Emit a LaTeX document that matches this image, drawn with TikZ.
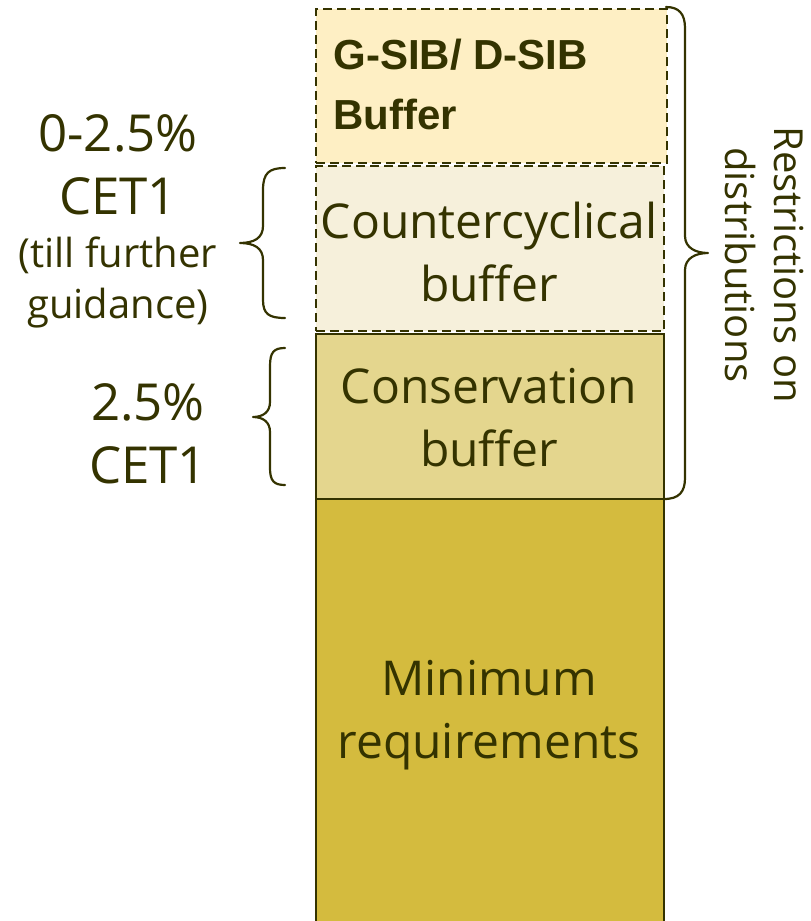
\documentclass[tikz,border=0pt]{standalone}
\usepackage{fontspec}
\setmainfont{Open Sans}
\newfontfamily\boldarial{Liberation Sans}[BoldFont={Liberation Sans Bold}]
\definecolor{inkc}{HTML}{343300}
\definecolor{gsibc}{HTML}{FEEFC4}
\definecolor{counterc}{HTML}{F6F0DB}
\definecolor{conservc}{HTML}{E4D68E}
\definecolor{minc}{HTML}{D4BB3E}
\tikzset{
  layer/.style={draw=inkc, line width=2.2pt, minimum width=348pt, anchor=north west, inner sep=0pt},
  dashedlayer/.style={layer, dash pattern=on 9pt off 5pt},
  boxtext/.style={text=inkc, font=\fontsize{48}{63}\selectfont, align=center},
  bigtext/.style={text=inkc, font=\fontsize{51}{63}\selectfont, align=center},
  smalltext/.style={text=inkc, font=\fontsize{40}{51}\selectfont, align=center},
  bracket/.style={draw=inkc, line width=2.2pt, line cap=round, line join=round}
}
\begin{document}
\begin{tikzpicture}[x=1pt,y=-1pt]
\useasboundingbox (0,0) rectangle (811,921);
% stacked capital layers
\node[layer, fill=minc, minimum height=430pt] (minreq) at (315,498) {};
\node[layer, fill=conservc, minimum height=165pt] (conserv) at (315,333) {};
\node[dashedlayer, fill=counterc, minimum height=165pt] (counter) at (315,165) {};
\node[dashedlayer, fill=gsibc, minimum width=351pt, minimum height=154pt] (gsib) at (315,8) {};
% layer captions
\node[anchor=west, text=inkc, font=\boldarial\bfseries\fontsize{42}{60}\selectfont, align=left] (gsibtxt) at (330,84) {G-SIB/ D-SIB\\Buffer};
\node[boxtext] (countertxt) at (489,252) {Countercyclical\\buffer};
\node[boxtext] (conservtxt) at (489,418) {Conservation\\buffer};
\node[boxtext] (minreqtxt) at (489,715) {Minimum\\requirements};
% left annotations
\node[bigtext] (cetA) at (118,165) {0-2.5\%\\CET1};
\node[smalltext] (guide) at (118,282) {(till further\\guidance)};
\node[bigtext] (cetB) at (148,434) {2.5\%\\CET1};
% braces
\draw[bracket] (285,168) .. controls (269,168) and (263,173) .. (263,190) -- (263,226)
  .. controls (263,238) and (254,243) .. (240,243)
  .. controls (254,243) and (263,248) .. (263,260) -- (263,300)
  .. controls (263,314) and (269,318) .. (285,318);
\draw[bracket] (285,348) .. controls (274,348) and (270,352) .. (270,366) -- (270,402)
  .. controls (270,412) and (263,417) .. (253,417)
  .. controls (263,417) and (270,422) .. (270,432) -- (270,468)
  .. controls (270,481) and (274,485) .. (285,485);
\draw[bracket] (666,7) .. controls (679,7) and (685,14) .. (685,28) -- (685,236)
  .. controls (685,248) and (696,253) .. (708,253)
  .. controls (696,253) and (685,258) .. (685,270) -- (685,478)
  .. controls (685,492) and (679,499) .. (664,499);
\node[text=inkc, align=center, rotate=-90, font=\fontsize{40}{49}\selectfont] (restrict) at (764,265) {Restrictions on\\distributions};
\end{tikzpicture}
\end{document}
